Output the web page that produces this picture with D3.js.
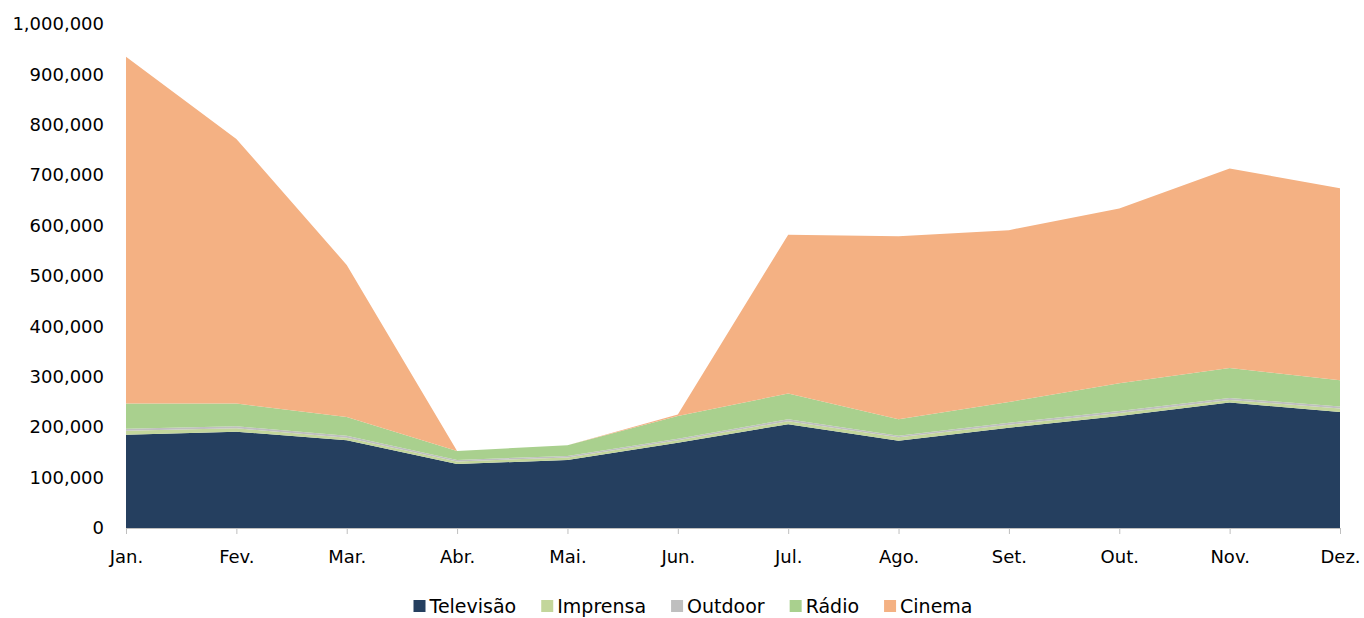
<!DOCTYPE html>
<html>
<head>
<meta charset="utf-8">
<script src="https://cdn.jsdelivr.net/npm/d3@7"></script>
<style>
  body { margin: 0; background: #fff; }
  text { font-family: "DejaVu Sans", sans-serif; fill: #000; }
</style>
</head>
<body>
<svg id="chart" width="1364" height="618"></svg>
<script>
// months on the x axis
var months = ['Jan.', 'Fev.', 'Mar.', 'Abr.', 'Mai.', 'Jun.', 'Jul.', 'Ago.', 'Set.', 'Out.', 'Nov.', 'Dez.']

// series, bottom to top
var televisao = [185000, 191000, 174000, 127000, 135000, 169000, 206000, 173000, 199000, 222000, 249000, 230000]
var imprensa  = [8000, 7000, 5000, 5000, 5000, 5000, 6000, 7000, 6000, 6000, 5000, 7000]
var outdoor   = [4000, 4000, 4000, 3000, 3000, 3000, 4000, 3000, 4000, 4000, 4000, 4000]
var radio     = [50000, 45000, 37000, 18000, 21000, 45000, 51000, 33000, 41000, 55000, 59500, 52000]
var cinema    = [688000, 525000, 302000, 0, 0, 3000, 315000, 363000, 341000, 347000, 396000, 381000]

var seriesNames = ['Televisão', 'Imprensa', 'Outdoor', 'Rádio', 'Cinema']
var seriesValues = [televisao, imprensa, outdoor, radio, cinema]
var colors = ['#253F5F', '#C3D69B', '#BFBFBF', '#A9D08E', '#F4B183']

var yTicks = d3.range(0, 1000001, 100000)

var svg = d3.select('#chart')
var mLeft = 126, mRight = 1340, mTop = 24, mBottom = 528

var rows = months.map(function(m, i){
  var r = {month: m}
  seriesNames.forEach(function(s, j){ r[s] = seriesValues[j][i] })
  return r
})

var stacked = d3.stack().keys(seriesNames)(rows)

var x = d3.scalePoint().domain(months).range([mLeft, mRight])
var y = d3.scaleLinear().domain([0, 1000000]).range([mBottom, mTop])

var area = d3.area()
  .x(function(d){ return x(d.data.month) })
  .y0(function(d){ return y(d[0]) })
  .y1(function(d){ return y(d[1]) })

svg.append('g').selectAll('path')
  .data(stacked)
  .join('path')
  .attr('d', area)
  .attr('fill', function(d, i){ return colors[i] })

// y axis: labels only
var yAxis = svg.append('g')
  .attr('transform', 'translate(' + (mLeft - 6) + ',0)')
  .call(d3.axisLeft(y).tickValues(yTicks).tickSize(0).tickPadding(16).tickFormat(d3.format(',')))
yAxis.select('.domain').remove()
yAxis.selectAll('text').attr('font-size', 18).attr('font-family', 'DejaVu Sans')

// x axis
var xAxis = svg.append('g')
  .attr('transform', 'translate(0,' + mBottom + ')')
  .call(d3.axisBottom(x).tickSize(6).tickPadding(16))
xAxis.select('.domain').attr('stroke', '#BFBFBF').attr('d', 'M' + mLeft + ',0.5H' + mRight)
xAxis.selectAll('.tick line').attr('stroke', '#BFBFBF')
xAxis.selectAll('text').attr('font-size', 18).attr('font-family', 'DejaVu Sans')

// legend
var legend = svg.append('g')
var lx = 0
seriesNames.forEach(function(s, i){
  var g = legend.append('g')
  g.append('rect').attr('x', 0).attr('y', -6).attr('width', 12).attr('height', 12).attr('fill', colors[i])
  var t = g.append('text').attr('x', 16).attr('dy', '0.35em').attr('font-size', 19).text(s)
  var w = 16 + t.node().getComputedTextLength()
  g.attr('transform', 'translate(' + lx + ',0)')
  lx += w + 25
})
var legendWidth = lx - 25
legend.attr('transform', 'translate(' + (693 - legendWidth / 2) + ',606)')
</script>
</body>
</html>
